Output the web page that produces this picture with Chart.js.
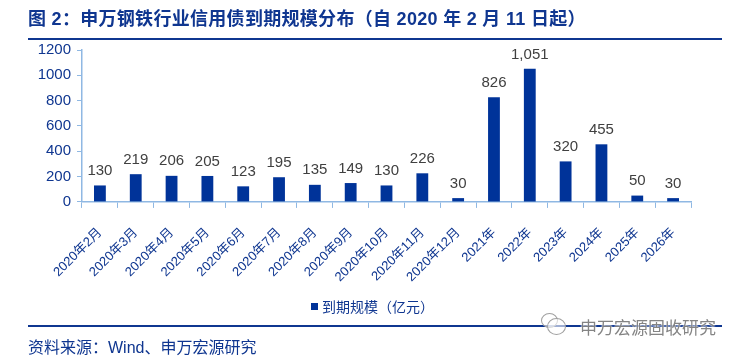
<!DOCTYPE html>
<html>
<head>
<meta charset="utf-8">
<script src="https://cdn.jsdelivr.net/npm/chart.js@4.4.0/dist/chart.umd.min.js"></script>
<style>
  html, body { margin: 0; padding: 0; background: #fff; }
  body { width: 745px; height: 360px; position: relative; overflow: hidden;
         font-family: "Liberation Sans", "Noto Sans CJK SC", sans-serif; }
  #title { position: absolute; left: 28px; top: 4px; font-size: 18px; font-weight: bold;
           color: #0f3690; letter-spacing: 0.3px; white-space: nowrap; }
  #titleLine { position: absolute; left: 28px; top: 38px; width: 694px; height: 2px; background: #0f3690; }
  #legend { position: absolute; left: 0; width: 745px; top: 296px; text-align: center;
            font-size: 14px; color: #0f3690; white-space: nowrap; }
  #legend i { display: inline-block; width: 7px; height: 7px; background: #003399; margin-right: 4px; vertical-align: 2px; }
  #footLine { position: absolute; left: 28px; top: 325px; width: 694px; height: 2px; background: #0f3690; }
  #source { position: absolute; left: 28px; top: 334px; font-size: 16px; color: #0f3690; white-space: nowrap; }
  #mark { position: absolute; left: 580px; top: 314px; font-size: 17px; color: rgba(110,110,110,0.85); white-space: nowrap;
          text-shadow: 0 0 2px #fff, 0 0 2px #fff; }
  .bub { position: absolute; border: 1px solid #a0a0a0; border-radius: 50%; background: rgba(255,255,255,0.6); }
  #chartBox { position: absolute; left: 0; top: 0; width: 745px; height: 360px; }
</style>
</head>
<body>
<div id="chartBox"><canvas id="maturityChart" width="745" height="360"></canvas></div>
<div id="title">图 2：申万钢铁行业信用债到期规模分布（自 2020 年 2 月 11 日起）</div>
<div id="titleLine"></div>
<div id="legend"><i></i>到期规模（亿元）</div>
<div id="footLine"></div>
<div class="bub" style="left:541px;top:313px;width:15px;height:13px;"></div>
<div class="bub" style="left:547px;top:318px;width:17px;height:15px;"></div>
<div id="source">资料来源：Wind、申万宏源研究</div>
<div id="mark">申万宏源固收研究</div>
<script>
// 类别和数值（亿元）
const categories = ['2020年2月', '2020年3月', '2020年4月', '2020年5月', '2020年6月', '2020年7月',
  '2020年8月', '2020年9月', '2020年10月', '2020年11月', '2020年12月',
  '2021年', '2022年', '2023年', '2024年', '2025年', '2026年'];
const maturityValues = [130, 219, 206, 205, 123, 195, 135, 149, 130, 226, 30, 826, 1051, 320, 455, 50, 30];
const yTicks = [0, 200, 400, 600, 800, 1000, 1200];
const seriesName = '到期规模（亿元）';

const navy = '#0f3690';
const barColor = '#003399';
const axisColor = '#8fb8e3';
const fontFamily = '"Liberation Sans", "Noto Sans CJK SC", sans-serif';

// 柱顶数值标签
const valueLabels = {
  id: 'valueLabels',
  afterDatasetsDraw(chart) {
    const ctx = chart.ctx;
    const meta = chart.getDatasetMeta(0);
    ctx.save();
    ctx.font = '15px ' + fontFamily;
    ctx.fillStyle = '#404040';
    ctx.textAlign = 'center';
    ctx.textBaseline = 'bottom';
    meta.data.forEach((bar, i) => {
      ctx.fillText(maturityValues[i].toLocaleString('en-US'), bar.x, bar.y - 7);
    });
    ctx.restore();
  }
};

new Chart(document.getElementById('maturityChart'), {
  type: 'bar',
  data: {
    labels: categories,
    datasets: [{
      label: seriesName,
      data: maturityValues,
      backgroundColor: barColor,
      barPercentage: 0.33,
      categoryPercentage: 1.0
    }]
  },
  options: {
    responsive: false,
    animation: false,
    layout: { padding: { left: 30, right: 54, top: 50, bottom: 58 } },
    plugins: {
      legend: { display: false },
      tooltip: { enabled: false }
    },
    scales: {
      x: {
        grid: { drawOnChartArea: false, drawTicks: true, tickLength: 6, color: axisColor, offset: true },
        border: { color: axisColor, width: 1.5 },
        ticks: {
          color: navy, minRotation: 45, maxRotation: 45, padding: 17,
          font: { size: 13, family: fontFamily }
        }
      },
      y: {
        min: 0, max: 1200,
        afterBuildTicks(axis) { axis.ticks = yTicks.map(v => ({ value: v })); },
        afterFit(axis) { axis.width = 52; },
        grid: { drawOnChartArea: false, drawTicks: true, tickLength: 5, color: axisColor },
        border: { color: axisColor, width: 1.5 },
        ticks: {
          color: navy, padding: 6,
          callback: v => String(v),
          font: { size: 15, family: fontFamily }
        }
      }
    }
  },
  plugins: [valueLabels]
});
</script>
</body>
</html>
